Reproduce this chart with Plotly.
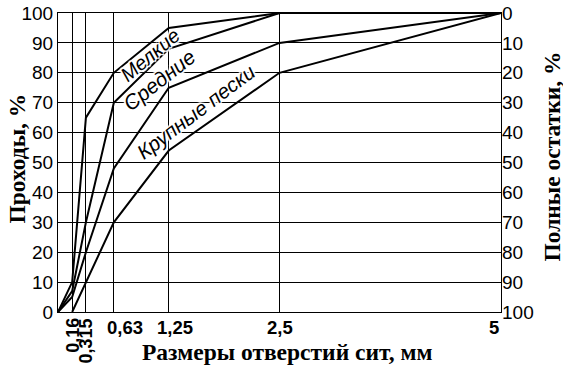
import plotly.graph_objects as go

# Sieve opening sizes, mm
sieves = [0, 0.16, 0.315, 0.63, 1.25, 2.5, 5]
sieve_labels = ["0,16", "0,315", "0,63", "1,25", "2,5", "5"]
sieve_ticks = [0.16, 0.315, 0.63, 1.25, 2.5, 5]

# Passing, % (boundary curves)
line_fine_top = [0, 10, 65, 80, 95, 100, 100]
line_fine_medium = [0, 7, 30, 70, 88, 100, 100]
line_medium_coarse = [0, 5, 20, 48, 75, 90, 100]
sieves_coarse = [0.16, 0.315, 0.63, 1.25, 2.5, 5]
line_coarse_bottom = [0, 10, 30, 54, 80, 100]

y_ticks = list(range(0, 101, 10))

SANS = "Liberation Sans, Arial, sans-serif"
SERIF = "Liberation Serif, Times New Roman, serif"
HALO = ("1px 0 0 white, -1px 0 0 white, 0 1px 0 white, 0 -1px 0 white, "
        "2px 0 1px white, -2px 0 1px white, 0 2px 1px white, 0 -2px 1px white")

fig = go.Figure()
for xs, ys in [(sieves, line_fine_top), (sieves, line_fine_medium),
               (sieves, line_medium_coarse), (sieves_coarse, line_coarse_bottom)]:
    fig.add_trace(go.Scatter(x=xs, y=ys, mode="lines",
                             line=dict(color="black", width=2),
                             showlegend=False, hoverinfo="skip"))
# residue axis carrier (no visible marks)
fig.add_trace(go.Scatter(x=[None], y=[None], yaxis="y2", showlegend=False))

fig.update_layout(
    width=563, height=373,
    margin=dict(l=58, r=62, t=13, b=61, autoexpand=False),
    paper_bgcolor="white", plot_bgcolor="white",
    xaxis=dict(range=[0, 5], tickvals=sieve_ticks, showticklabels=False,
               showgrid=True, gridcolor="black", gridwidth=1,
               showline=True, linecolor="black", linewidth=1, mirror=True,
               zeroline=False, ticks="", automargin=False),
    yaxis=dict(range=[0, 100], tickvals=y_ticks, showgrid=True,
               gridcolor="black", gridwidth=1, showline=True,
               linecolor="black", linewidth=1, mirror=True, zeroline=False,
               ticks="", automargin=False,
               tickfont=dict(family=SANS, size=19, color="black")),
    yaxis2=dict(range=[100, 0], tickvals=y_ticks, overlaying="y", side="right",
                showgrid=False, showline=False, zeroline=False, ticks="",
                automargin=False,
                tickfont=dict(family=SANS, size=19, color="black")),
)

ann = []
# x tick labels
for v, lab in zip(sieve_ticks, sieve_labels):
    if v < 0.5:
        ann.append(dict(x=v, y=0, xref="x", yref="paper", text="<b>%s</b>" % lab,
                        textangle=-90, xanchor="center", yanchor="top", yshift=-4,
                        showarrow=False, font=dict(family=SANS, size=18, color="black")))
    else:
        xa = "right" if v == 5 else "center"
        shift = {0.63: 11, 1.25: 6}.get(v, 0)
        ann.append(dict(x=v, y=0, xref="x", yref="paper", text="<b>%s</b>" % lab,
                        xanchor=xa, yanchor="top", yshift=-3, xshift=shift,
                        showarrow=False, font=dict(family=SANS, size=18.5, color="black")))

# axis titles
ann.append(dict(x=-0.0926, y=0.513, xref="paper", yref="paper",
                text="<b>Проходы, %</b>", textangle=-90, showarrow=False,
                xanchor="center", yanchor="middle",
                font=dict(family=SERIF, size=23.5, color="black")))
ann.append(dict(x=0.519, y=-0.135, xref="paper", yref="paper",
                text="<b>Размеры отверстий сит, мм</b>", showarrow=False,
                xanchor="center", yanchor="middle",
                font=dict(family=SERIF, size=23.5, color="black")))
ann.append(dict(x=1.113, y=0.52, xref="paper", yref="paper",
                text="<b>Полные остатки, %</b>", textangle=-90, showarrow=False,
                xanchor="center", yanchor="middle",
                font=dict(family=SERIF, size=23.5, color="black")))

# zone labels
for txt, x, y, ang, sz in [("Мелкие", 1.038, 86.0, -40, 20),
                           ("Средние", 1.151, 77.6, -38, 21),
                           ("Крупные пески", 1.557, 67.0, -37, 20.5)]:
    ann.append(dict(x=x, y=y, xref="x", yref="y", text="<i>%s</i>" % txt,
                    textangle=ang, showarrow=False, xanchor="center", yanchor="middle",
                    borderpad=0,
                    font=dict(family=SANS, size=sz, color="black", shadow=HALO)))

fig.update_layout(annotations=ann)
fig.write_html("out.html",
               config={"displayModeBar": False},
               post_script="document.documentElement.style.margin='0';"
                           "document.body.style.margin='0';"
                           "document.body.style.padding='0';")
